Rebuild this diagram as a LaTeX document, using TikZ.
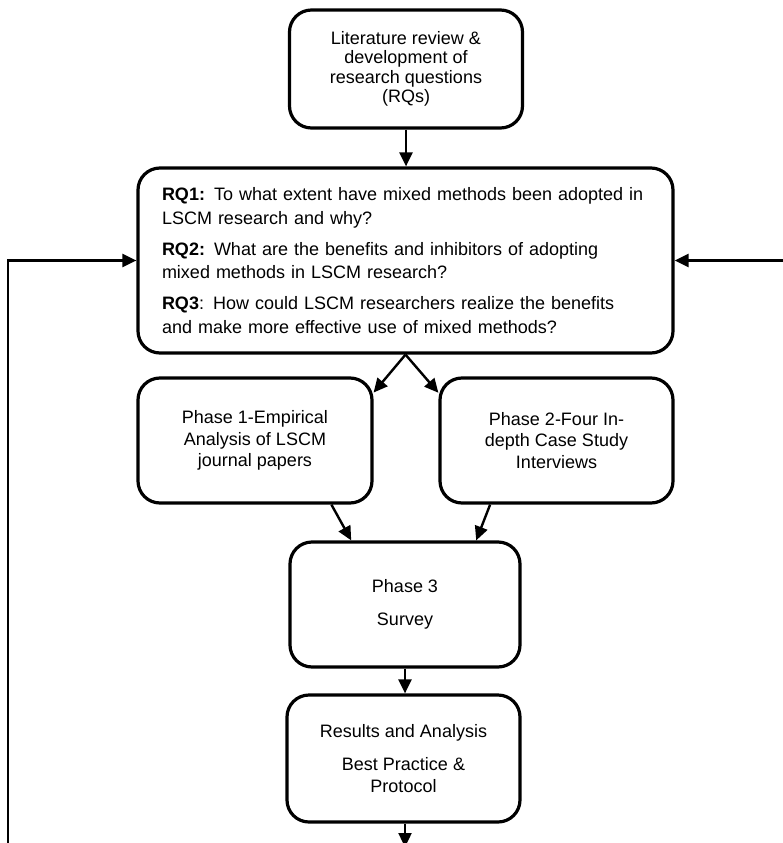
\documentclass[tikz,border=0pt]{standalone}
\usepackage{fontspec}
\setmainfont{Liberation Sans}
\usepackage{tikz}
\usetikzlibrary{arrows.meta}
\usetikzlibrary{calc}

\begin{document}
\begin{tikzpicture}[x=1pt,y=-1pt,
  box/.style={draw,line width=3.2pt,rounded corners=22pt,align=center,
    minimum width=233,minimum height=125,font=\fontsize{18}{21.5}\selectfont},
  flow/.style={line width=2.4pt,-{Triangle[length=14pt,width=13pt]}}]
 \useasboundingbox (0,0) rectangle (783,843);

 \node[box,minimum height=118,font=\fontsize{18}{19.5}\selectfont] (lit) at (406,69)
   {Literature review \&\\development of\\research questions\\(RQs)};
 \node[box,align=left,text width=487,minimum width=535,minimum height=185,
   font=\fontsize{18}{23.5}\selectfont] (rq) at (405.5,260.5)
   {\textbf{RQ1:} To what extent have mixed methods been adopted in\\
    LSCM research and why?\\[7.5pt]
    \textbf{RQ2:} What are the benefits and inhibitors of adopting\\
    mixed methods in LSCM research?\\[7.5pt]
    \textbf{RQ3}: How could LSCM researchers realize the benefits\\
    and make more effective use of mixed methods?};
 \node[box,minimum width=234] (p1) at (255,440.5)
   {Phase 1-Empirical\\Analysis of LSCM\\journal papers};
 \node[box] (p2) at (556.5,440.5)
   {Phase 2-Four In-\\depth Case Study\\Interviews};
 \node[box,minimum width=230] (p3) at (405,604.5) {Phase 3\\[11.5pt]Survey};
 \node[box,minimum height=127] (res) at (403.5,758.5)
   {Results and Analysis\\[11.5pt]Best Practice \&\\Protocol};

 \coordinate (fbl) at (8,850);
 \coordinate (fbr) at (790,260.5);
 \coordinate (out) at (405,847);

 \draw[flow] (lit.south) -- (lit.south |- rq.north);
 \draw[flow] (rq.south) -- (p1.22);
 \draw[flow] (rq.south) -- (p2.158);
 \draw[flow] (p1.-40) -- (p3.130);
 \draw[flow] (p2.224) -- (p3.42);
 \draw[flow] (p3.south) -- (p3.south |- res.north);
 \draw[flow] (res.south -| out) -- (out);
 \draw[flow] (fbl) |- (rq.west);
 \draw[flow] (fbr) -- (rq.east);
\end{tikzpicture}
\end{document}
